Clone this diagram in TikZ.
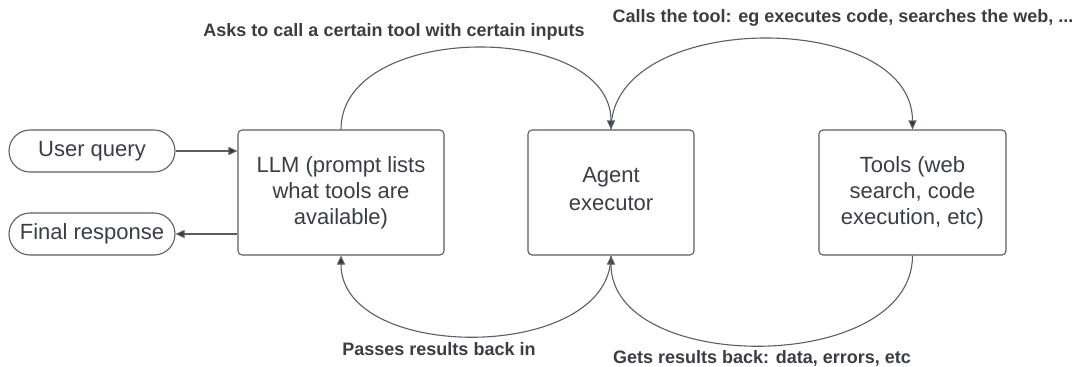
\documentclass[tikz,border=0pt]{standalone}
\usepackage{fontspec}
\setmainfont{Liberation Sans}
\usetikzlibrary{arrows.meta}
\definecolor{edge}{HTML}{5A5E66}
\definecolor{ink}{HTML}{3A3D45}
\definecolor{tipc}{HTML}{2E333D}
\begin{document}
\begin{tikzpicture}[x=1pt,y=-1pt,
  box/.style={draw=edge, line width=1.1pt, rounded corners=4pt, text=ink,
    align=center, inner sep=0pt,
    font=\fontsize{22}{26}\selectfont},
  pill/.style={draw=edge, line width=1.1pt, rounded corners=21pt, text=ink,
    inner sep=0pt, font=\fontsize{22}{26}\selectfont},
  flow/.style={draw=edge, line width=1.1pt,
    -{Triangle[length=9pt,width=8pt,fill=tipc]}},
  note/.style={text=ink, inner sep=0pt,
    font=\fontsize{18}{22}\selectfont\bfseries}]
  \useasboundingbox (0,0) rectangle (1080,367);

  % input and output terminals
  \node[pill, minimum width=166pt, minimum height=42pt] (uq) at (92,151) {User query};
  \node[pill, minimum width=166pt, minimum height=42pt] (fr) at (92,234) {Final response};

  % main blocks
  \node[box, minimum width=206pt, minimum height=125pt] (llm) at (341,192.5)
    {LLM (prompt lists\\what tools are\\available)};
  \node[box, minimum width=166pt, minimum height=125pt, text depth=0pt] (agent) at (611,192.5)
    {};
  \node[text=ink, align=center, font=\fontsize{22}{28}\selectfont, inner sep=0pt]
    (agenttext) at (611,189) {Agent\\executor};
  \node[box, minimum width=187pt, minimum height=125pt] (tools) at (912.5,192.5)
    {Tools (web\\search, code\\execution, etc)};

  % query in, response out
  \draw[flow] (uq.east) -- (llm.west |- uq.east);
  \draw[flow] (llm.west |- fr.east) -- (fr.east);

  % loop between the blocks
  \draw[flow] (llm.north) .. controls (341,21) and (611,21) .. (agent.north);
  \draw[flow] (agent.north) .. controls (611,9) and (912.5,9) .. (tools.north);
  \draw[flow] (tools.south) .. controls (912.5,375) and (611,375) .. (agent.south);
  \draw[flow] (agent.south) .. controls (611,363) and (341,363) .. (llm.south);

  % arc labels
  \node[note] (askl) at (394,32) {Asks to call a certain tool with certain inputs};
  \node[note] (calll) at (843,18) {Calls the tool: eg executes code, searches the web, ...};
  \node[note] (passl) at (439,349) {Passes results back in};
  \node[note] (getl) at (762,358) {Gets results back: data, errors, etc};
\end{tikzpicture}
\end{document}
